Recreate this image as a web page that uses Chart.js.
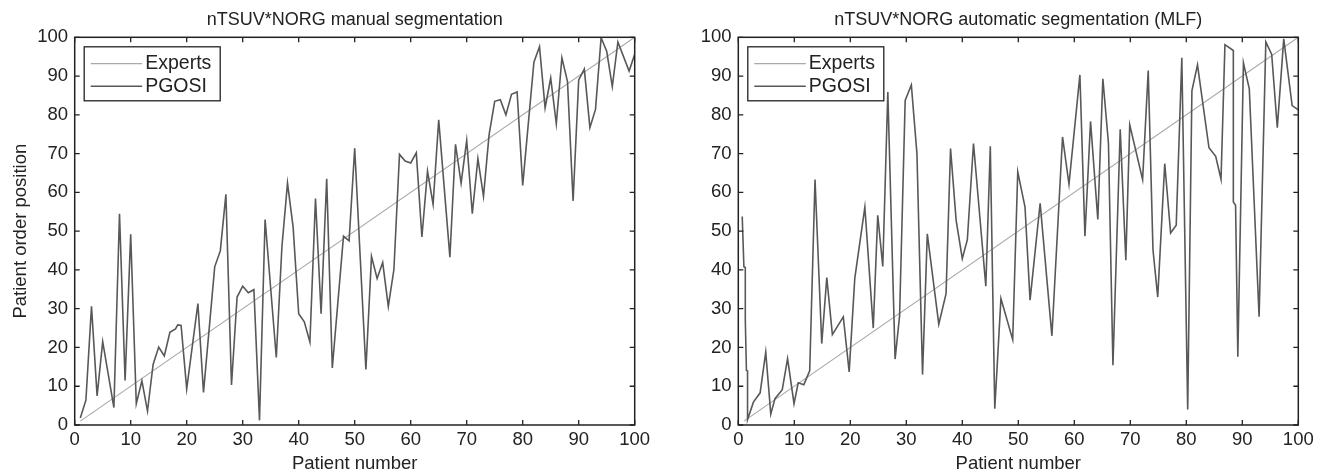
<!DOCTYPE html>
<html>
<head>
<meta charset="utf-8">
<script src="https://cdn.jsdelivr.net/npm/chart.js@4.4.1/dist/chart.umd.min.js"></script>
<style>
  html, body { margin: 0; padding: 0; background: #fff; overflow: hidden; }
  .panel { position: absolute; top: 0; width: 663px; height: 475px; }
  #leftPanel { left: 0; }
  #rightPanel { left: 663px; }
</style>
</head>
<body>
<div class="panel" id="leftPanel"><canvas id="manualChart"></canvas></div>
<div class="panel" id="rightPanel"><canvas id="autoChart"></canvas></div>
<script>
// Expert ranking (diagonal reference)
const expertsX = [1, 100];
const expertsY = [1, 100];

// Manual segmentation - PGOSI order position per patient
const manualX = [1, 2, 3, 4, 5, 7, 8, 9, 10, 11, 12, 13, 14, 15, 16, 17, 18, 18.4, 19, 20,
    22, 23, 25, 26, 27, 28, 29, 30, 31, 32, 33, 34, 36, 37, 38, 39, 40, 41, 42, 43,
    44, 45, 46, 48, 49, 50, 52, 53, 54, 55, 56, 57, 58, 59, 60, 61, 62, 63, 64, 65,
    67, 68, 69, 70, 71, 72, 73, 74, 75, 76, 77, 78, 79, 80, 82, 83, 84, 85, 86, 87,
    88, 89, 90, 91, 92, 93, 94, 95, 96, 97, 99, 100];
const manualY = [1.8, 6.4, 30.6, 7.5, 21.5, 4.5, 54.5, 11.5, 49.2, 5.5, 11.4, 3.6, 15.6, 20.1, 17.8, 23.9, 24.8, 25.8, 25.7, 9.3,
    31.3, 8.4, 40.8, 44.9, 59.5, 10.3, 33.0, 35.8, 34.1, 34.9, 1.2, 53.0, 17.4, 45.9, 62.4, 51.1, 28.7, 26.6, 21.4, 58.4,
    28.7, 63.5, 14.7, 48.7, 47.5, 71.4, 14.3, 43.5, 37.8, 41.9, 30.6, 40.1, 69.8, 68.1, 67.6, 70.2, 48.5, 65.5, 56.9, 78.7,
    43.3, 72.4, 62.4, 73.4, 54.5, 68.7, 59.0, 74.9, 83.5, 83.9, 80.0, 85.3, 85.9, 61.8, 93.6, 97.6, 81.8, 89.5, 77.7, 94.7,
    88.6, 57.8, 89.0, 91.8, 76.7, 81.4, 99.9, 96.4, 87.3, 98.8, 91.3, 95.6];

// Automatic segmentation (MLF)
const autoX = [0.7, 1.0, 1.25, 1.25, 1.45, 1.65, 1.65, 2.7, 3.9, 4.9, 5.8, 6.55, 7.85, 8.8, 9.95, 10.7, 11.7, 12.75, 13.7, 14.9,
    15.8, 16.8, 18.75, 19.8, 20.8, 22.6, 24.1, 24.9, 25.8, 26.7, 28.0, 28.8, 29.8, 30.9, 31.9, 32.9, 33.75, 35.8, 37.1, 37.9,
    38.9, 40.0, 40.9, 42.0, 44.2, 45.0, 45.8, 46.9, 49.0, 49.9, 51.2, 52.1, 53.9, 56.0, 57.9, 59.05, 61.0, 61.9, 62.9, 64.2,
    65.1, 66.1, 66.9, 68.2, 69.2, 69.9, 72.2, 73.2, 74.05, 74.9, 76.15, 77.2, 78.2, 79.2, 80.25, 81.0, 82.0, 84.05, 85.25, 86.2,
    86.9, 88.4, 88.4, 88.8, 89.2, 90.2, 91.25, 93.0, 94.2, 95.25, 96.25, 97.4, 98.9, 100];
const autoY = [53.8, 40.8, 40.6, 27.0, 14.1, 13.95, 1.4, 5.9, 8.3, 18.8, 2.8, 6.8, 9.1, 17.1, 5.5, 10.9, 10.4, 14.0, 63.3, 21.0,
    38.0, 23.3, 27.9, 13.7, 37.8, 56.2, 25.0, 54.1, 40.9, 85.9, 17.0, 28.1, 83.7, 87.7, 70.0, 13.0, 49.3, 26.0, 33.9, 71.3,
    52.8, 42.9, 47.8, 72.6, 35.8, 71.9, 4.2, 32.6, 22.0, 65.3, 56.2, 32.2, 57.2, 23.0, 74.3, 62.1, 90.3, 48.7, 78.3, 53.0,
    89.3, 72.6, 15.4, 76.3, 42.5, 77.4, 63.3, 91.4, 45.2, 33.0, 67.4, 49.5, 51.5, 94.7, 4.0, 86.2, 92.9, 71.5, 69.3, 63.4,
    98.1, 96.6, 57.5, 56.7, 17.6, 93.4, 86.7, 27.9, 98.8, 95.6, 76.7, 99.6, 82.4, 81.3];

const tickValues = [0, 10, 20, 30, 40, 50, 60, 70, 80, 90, 100];

const FONT = '"Liberation Sans", Arial, Helvetica, sans-serif';
const INK = '#222';

const toPoints = (xs, ys) => xs.map((x, i) => ({ x: x, y: ys[i] }));

// box around the plot + inward ticks (matlab style)
const frameTicks = {
    id: 'frameTicks',
    afterDraw(chart) {
        const { ctx, chartArea: a, scales } = chart;
        const len = 5;
        ctx.save();
        ctx.strokeStyle = INK;
        ctx.lineWidth = 1.3;
        ctx.beginPath();
        scales.x.ticks.forEach(t => {
            const px = scales.x.getPixelForValue(t.value);
            ctx.moveTo(px, a.bottom); ctx.lineTo(px, a.bottom - len);
            ctx.moveTo(px, a.top); ctx.lineTo(px, a.top + len);
        });
        scales.y.ticks.forEach(t => {
            const py = scales.y.getPixelForValue(t.value);
            ctx.moveTo(a.left, py); ctx.lineTo(a.left + len, py);
            ctx.moveTo(a.right, py); ctx.lineTo(a.right - len, py);
        });
        ctx.stroke();
        ctx.lineWidth = 1.5;
        ctx.strokeRect(a.left, a.top, a.right - a.left, a.bottom - a.top);
        ctx.restore();
    }
};

// legend box in the upper left corner of the plot
const boxLegend = {
    id: 'boxLegend',
    afterDatasetsDraw(chart) {
        const { ctx, chartArea: a } = chart;
        const x = a.left + 9.5, y = a.top + 9.5, w = 136, h = 54;
        ctx.save();
        ctx.fillStyle = '#fff';
        ctx.fillRect(x, y, w, h);
        ctx.strokeStyle = INK;
        ctx.lineWidth = 1.3;
        ctx.strokeRect(x, y, w, h);
        ctx.font = '19.5px ' + FONT;
        ctx.textBaseline = 'middle';
        chart.data.datasets.forEach((ds, i) => {
            const cy = y + 16.8 + i * 22.7;
            ctx.strokeStyle = ds.borderColor;
            ctx.lineWidth = ds.borderWidth;
            ctx.beginPath();
            ctx.moveTo(x + 6.5, cy);
            ctx.lineTo(x + 58, cy);
            ctx.stroke();
            ctx.fillStyle = INK;
            ctx.fillText(ds.label, x + 61, cy + 0.5);
        });
        ctx.restore();
    }
};

function makeChart(canvasId, titleText, xs, ys, showYTitle, yWidth) {
    const ctx = document.getElementById(canvasId).getContext('2d');
    return new Chart(ctx, {
        type: 'line',
        data: {
            datasets: [{
                label: 'Experts',
                data: toPoints(expertsX, expertsY),
                borderColor: '#a9a9a9',
                borderWidth: 1.2,
                order: 1
            }, {
                label: 'PGOSI',
                data: toPoints(xs, ys),
                borderColor: '#585858',
                borderWidth: 1.6,
                order: 0
            }]
        },
        options: {
            responsive: true,
            maintainAspectRatio: false,
            animation: false,
            events: [],
            layout: { padding: { left: 0, right: 663 - yWidth - 560, top: 0, bottom: 0 } },
            elements: {
                point: { radius: 0 },
                line: { tension: 0, borderJoinStyle: 'miter' }
            },
            plugins: {
                legend: { display: false },
                tooltip: { enabled: false },
                title: {
                    display: true,
                    text: titleText,
                    fullSize: false,
                    color: INK,
                    font: { family: FONT, size: 18, weight: 'normal' },
                    padding: { top: 9.7, bottom: 6 }
                }
            },
            scales: {
                x: {
                    type: 'linear',
                    min: 0,
                    max: 100,
                    afterBuildTicks: (scale) => { scale.ticks = tickValues.map(v => ({ value: v })); },
                    afterFit: (scale) => { scale.height = 50; },
                    grid: { display: false, drawTicks: false },
                    border: { display: false },
                    ticks: {
                        color: INK,
                        padding: 4,
                        maxRotation: 0,
                        font: { family: FONT, size: 18.5 }
                    },
                    title: {
                        display: true,
                        text: 'Patient number',
                        color: INK,
                        font: { family: FONT, size: 18.5 },
                        padding: { top: 0, bottom: 0 }
                    }
                },
                y: {
                    type: 'linear',
                    min: 0,
                    max: 100,
                    afterBuildTicks: (scale) => { scale.ticks = tickValues.map(v => ({ value: v })); },
                    afterFit: (scale) => { scale.width = yWidth; },
                    grid: { display: false, drawTicks: false },
                    border: { display: false },
                    ticks: {
                        color: INK,
                        padding: 6.7,
                        font: { family: FONT, size: 18.5 }
                    },
                    title: {
                        display: showYTitle,
                        text: 'Patient order position',
                        color: INK,
                        font: { family: FONT, size: 18.5 },
                        padding: { top: 9.9, bottom: 0 }
                    }
                }
            }
        },
        plugins: [frameTicks, boxLegend]
    });
}

document.addEventListener('DOMContentLoaded', () => {
    makeChart('manualChart', 'nTSUV*NORG manual segmentation', manualX, manualY, true, 74.7);
    makeChart('autoChart', 'nTSUV*NORG automatic segmentation (MLF)', autoX, autoY, false, 75.3);
});
</script>
</body>
</html>
